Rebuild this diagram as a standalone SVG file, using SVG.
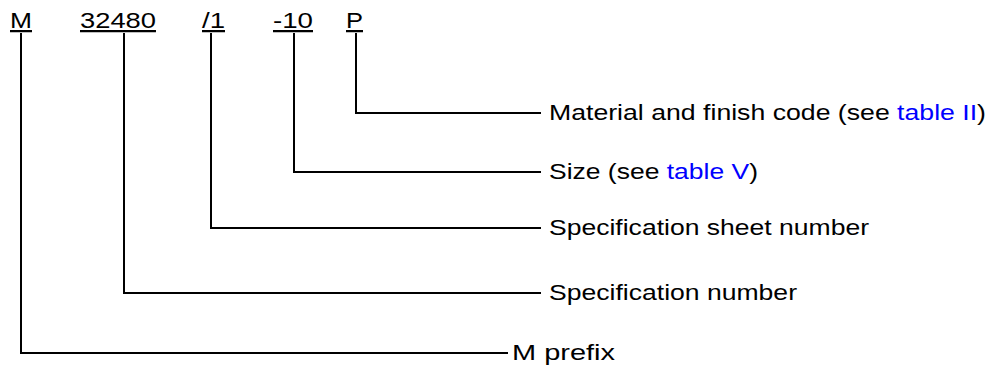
<svg xmlns="http://www.w3.org/2000/svg" width="988" height="370" viewBox="0 0 988 370">
<style>
text{font-family:"Liberation Sans",Arial,sans-serif;font-size:22.5px;fill:#000}
.l{fill:#0000ff}
.c{fill:none;stroke:#000;stroke-width:2}
</style>
<rect width="988" height="370" fill="#fff"/>
<g id="code">
<text x="10" y="28" text-decoration="underline" textLength="22" lengthAdjust="spacingAndGlyphs">M</text>
<text x="80" y="28" text-decoration="underline" textLength="76" lengthAdjust="spacingAndGlyphs">32480</text>
<text x="202" y="28" text-decoration="underline" textLength="23" lengthAdjust="spacingAndGlyphs">/1</text>
<text x="273" y="28" text-decoration="underline" textLength="40" lengthAdjust="spacingAndGlyphs">-10</text>
<text x="346" y="28" text-decoration="underline" textLength="17" lengthAdjust="spacingAndGlyphs">P</text>
</g>
<g id="connectors">
<polyline class="c" points="356,33 356,113 541,113"/>
<polyline class="c" points="294,33 294,172 541,172"/>
<polyline class="c" points="211,33 211,228 541,228"/>
<polyline class="c" points="124,33 124,293 541,293"/>
<polyline class="c" points="21,33 21,353 508,353"/>
</g>
<g id="n-material"><text x="549" y="120" textLength="437" lengthAdjust="spacingAndGlyphs">Material and finish code (see <tspan class="l">table II</tspan>)</text></g>
<g id="n-size"><text x="549" y="179" textLength="209" lengthAdjust="spacingAndGlyphs">Size (see <tspan class="l">table V</tspan>)</text></g>
<g id="n-sheet"><text x="549" y="235" textLength="320" lengthAdjust="spacingAndGlyphs">Specification sheet number</text></g>
<g id="n-spec"><text x="549" y="300" textLength="248" lengthAdjust="spacingAndGlyphs">Specification number</text></g>
<g id="n-prefix"><text x="512" y="360" textLength="103" lengthAdjust="spacingAndGlyphs">M prefix</text></g>
</svg>
